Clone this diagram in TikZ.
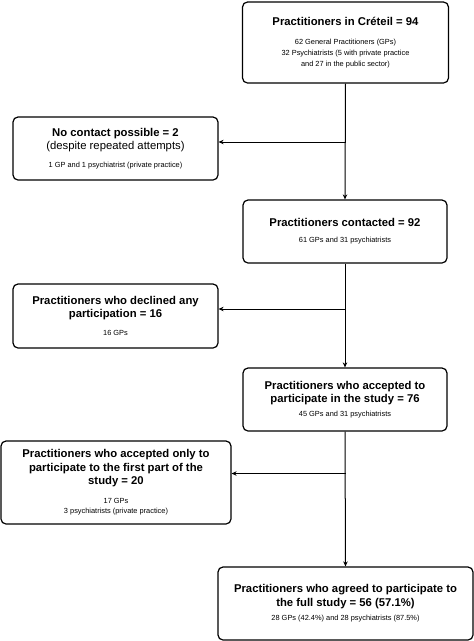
\documentclass[tikz,border=0pt]{standalone}
\usepackage{fontspec}
\setmainfont{Liberation Sans}
\usetikzlibrary{arrows.meta,positioning}
\newcommand{\hd}[1]{{\fontsize{11.3}{13}\selectfont\bfseries #1}}
\newcommand{\hr}[1]{{\fontsize{11.3}{13}\selectfont #1}}
\newcommand{\sm}[1]{{\fontsize{7.4}{10.5}\selectfont #1}}
\tikzset{
  flow_box/.style={draw, rounded corners=5pt, line width=1.2pt, align=center, inner sep=2pt, font=\fontsize{7.4}{10.8}\selectfont},
  flow_arr/.style={-{Stealth[length=5pt,width=4.5pt]}, line width=1pt}
}
\begin{document}
\begin{tikzpicture}[x=1pt,y=-1pt]
  \useasboundingbox (0,0) rectangle (474,641);
  % main column
  \node[flow_box, minimum width=206pt, minimum height=81pt] (n_total) at (345.5,42.5)
    {\hd{Practitioners in Créteil = 94}\\[8pt]
     \sm{62 General Practitioners (GPs)}\\
     \sm{32 Psychiatrists (5 with private practice}\\
     \sm{and 27 in the public sector)}};
  \node[flow_box, minimum width=204pt, minimum height=63pt] (n_contact) at (345,231.5)
    {\hd{Practitioners contacted = 92}\\[5pt]
     \sm{61 GPs and 31 psychiatrists}};
  \node[flow_box, minimum width=204pt, minimum height=63pt] (n_accept) at (345,399.5)
    {\hd{Practitioners who accepted to}\\[2.5pt]
     \hd{participate in the study = 76}\\[3pt]
     \sm{45 GPs and 31 psychiatrists}};
  \node[flow_box, minimum width=255pt, minimum height=73pt] (n_full) at (345.5,603.5)
    {\hd{Practitioners who agreed to participate to}\\[2.5pt]
     \hd{the full study = 56 (57.1\%)}\\[4pt]
     \sm{28 GPs (42.4\%) and 28 psychiatrists (87.5\%)}};
  % exclusions
  \node[flow_box, minimum width=205pt, minimum height=63pt] (n_nocontact) at (115.5,148.5)
    {\hd{No contact possible = 2}\\[2.5pt]
     \hr{(despite repeated attempts)}\\[7pt]
     \sm{1 GP and 1 psychiatrist (private practice)}};
  \node[flow_box, minimum width=205pt, minimum height=64pt] (n_declined) at (115.5,316)
    {\hd{Practitioners who declined any}\\[2.5pt]
     \hd{participation = 16}\\[7pt]
     \sm{16 GPs}};
  \node[flow_box, minimum width=230pt, minimum height=83pt] (n_partial) at (116,482.5)
    {\hd{Practitioners who accepted only to}\\[2.5pt]
     \hd{participate to the first part of the}\\[2.5pt]
     \hd{study = 20}\\[8pt]
     \sm{17 GPs}\\
     \sm{3 psychiatrists (private practice)}};
  % connectors
  \draw[flow_arr] (n_total.south) -- (n_contact.north);
  \draw[flow_arr] (n_contact.south) -- (n_accept.north);
  \draw[flow_arr] (n_accept.south) -- (n_full.north);
  \draw[flow_arr] ([yshift=6.5pt]n_nocontact.east -| n_total.south) -- ([yshift=6.5pt]n_nocontact.east);
  \draw[flow_arr] ([yshift=7pt]n_declined.east -| n_total.south) -- ([yshift=7pt]n_declined.east);
  \draw[flow_arr] ([yshift=9pt]n_partial.east -| n_total.south) -- ([yshift=9pt]n_partial.east);
\end{tikzpicture}
\end{document}
